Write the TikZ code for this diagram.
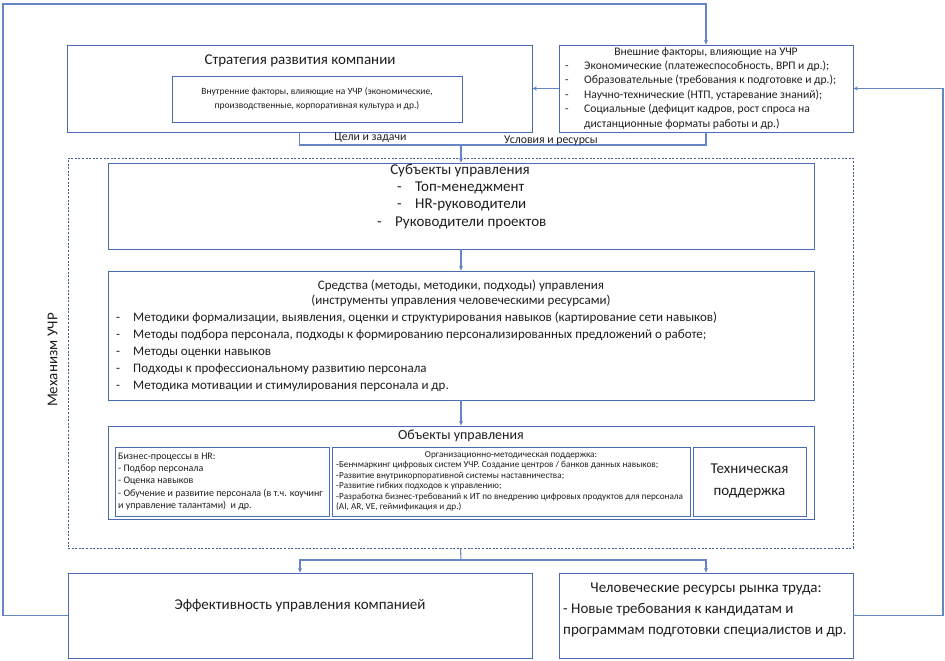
\documentclass[tikz,border=0pt]{standalone}
\usepackage{fontspec}
\setmainfont{Carlito}
\usetikzlibrary{arrows.meta}
\definecolor{bx}{HTML}{4A6BB0}
\definecolor{ln}{HTML}{6585C5}
\definecolor{tx}{HTML}{1E1E1E}
\begin{document}
\begin{tikzpicture}[x=1pt,y=-1pt,
  box/.style={draw=bx, line width=0.9pt, inner sep=0pt},
  conn/.style={draw=ln, line width=1.1pt},
  arr/.style={-{Stealth[length=4.5pt,width=4pt]}},
  t/.style={inner sep=0pt, text=tx, font=\fontsize{#1}{#1}\selectfont},
  tl/.style={t=#1, anchor=mid west},
  tc/.style={t=#1, anchor=mid}]
\useasboundingbox (0,0) rectangle (945,661);
% boxes
\node[box, minimum width=465pt, minimum height=87pt] (strat) at (299.5,88.5) {};
\node[box, minimum width=290pt, minimum height=46pt] (inner) at (317,99) {};
\node[box, minimum width=294pt, minimum height=87pt] (ext) at (706,88.5) {};
\node[draw=bx!85!black, dash pattern=on 2pt off 1.6pt, line width=0.7pt, inner sep=0pt, minimum width=785pt, minimum height=390pt] (mech) at (460.5,353) {};
\node[box, minimum width=706pt, minimum height=86pt] (subj) at (461,206) {};
\node[box, minimum width=706pt, minimum height=129pt] (means) at (461,335.5) {};
\node[box, minimum width=706pt, minimum height=93pt] (obj) at (461,472.5) {};
\node[box, minimum width=214pt, minimum height=69pt] (o1) at (222,481.5) {};
\node[box, minimum width=358pt, minimum height=69pt] (o2) at (511,481.5) {};
\node[box, minimum width=113pt, minimum height=69pt] (o3) at (749.5,481.5) {};
\node[box, minimum width=464pt, minimum height=85pt] (eff) at (300,615.5) {};
\node[box, minimum width=294pt, minimum height=85pt] (hr) at (706,615.5) {};
% connectors
\coordinate (ltop) at (3,4);
\coordinate (rtop) at (943,88.5);
\coordinate (g2) at (706,145);
\coordinate (gm) at (461,145);
\coordinate (b1) at (461,560);
\draw[conn,arr] (eff.west) -| (ltop) -| (ext.north);
\draw[conn,arr] (hr.east) -| (rtop) -- (ext.east);
\draw[conn,arr] (ext.west) -- (strat.east);
\draw[conn] (strat.south) |- (g2) -- (ext.south);
\draw[conn,arr] (gm) -- (subj.north);
\draw[conn,arr] (subj.south) -- (means.north);
\draw[conn,arr] (means.south) -- (obj.north);
\draw[conn] (mech.south) -- (b1);
\draw[conn,arr] (b1) -| (eff.north);
\draw[conn,arr] (b1) -| (hr.north);
% labels
\node[tc=11.8] (lg) at (370.5,138.5) {Цели и задачи};
\node[tc=11.8] (lu) at (551,141) {Условия и ресурсы};
\node[tc=15, rotate=90] (lm) at (55,360) {Механизм УЧР};
% strategy
\node[tc=15] (st) at (300,62) {Стратегия развития компании};
\node[t=9.5, align=center, font=\fontsize{9.5}{14}\selectfont, anchor=center] (it) at (317,99) {Внутренние факторы, влияющие на УЧР (экономические,\\ производственные, корпоративная культура и др.)};
% external
\node[tc=11.6] (e0) at (706,53) {Внешние факторы, влияющие на УЧР};
\node[tl=11.6] (e1d) at (565,67) {-};
\node[tl=11.6] (e1) at (584,67) {Экономические (платежеспособность, ВРП и др.);};
\node[tl=11.6] (e2d) at (565,81.5) {-};
\node[tl=11.6] (e2) at (584,81.5) {Образовательные (требования к подготовке и др.);};
\node[tl=11.6] (e3d) at (565,96) {-};
\node[tl=11.6] (e3) at (584,96) {Научно-технические (НТП, устаревание знаний);};
\node[tl=11.6] (e4d) at (565,110.5) {-};
\node[tl=11.6] (e4) at (584,110.5) {Социальные (дефицит кадров, рост спроса на};
\node[tl=11.6] (e5) at (584,125) {дистанционные форматы работы и др.)};
% subjects
\node[tc=15] (s0) at (460,172) {Субъекты управления};
\node[tl=15] (s1d) at (397,189) {-};
\node[tl=15] (s1) at (415,189) {Топ-менеджмент};
\node[tl=15] (s2d) at (397,206.5) {-};
\node[tl=15] (s2) at (415,206.5) {HR-руководители};
\node[tl=15] (s3d) at (377,224.5) {-};
\node[tl=15] (s3) at (395,224.5) {Руководители проектов};
% means
\node[tc=13] (m0) at (461,287) {Средства (методы, методики, подходы) управления};
\node[tc=13] (m1) at (461,302) {(инструменты управления человеческими ресурсами)};
\node[tl=13] (m2d) at (116,319) {-};
\node[tl=13] (m2) at (133,319) {Методики формализации, выявления, оценки и структурирования навыков (картирование сети навыков)};
\node[tl=13] (m3d) at (116,336.5) {-};
\node[tl=13] (m3) at (133,336.5) {Методы подбора персонала, подходы к формированию персонализированных предложений о работе;};
\node[tl=13] (m4d) at (116,353.5) {-};
\node[tl=13] (m4) at (133,353.5) {Методы оценки навыков};
\node[tl=13] (m5d) at (116,370.5) {-};
\node[tl=13] (m5) at (133,370.5) {Подходы к профессиональному развитию персонала};
\node[tl=13] (m6d) at (116,387.5) {-};
\node[tl=13] (m6) at (133,387.5) {Методика мотивации и стимулирования персонала и др.};
% objects
\node[tc=14] (ob) at (461,437) {Объекты управления};
\node[tl=10] (a1) at (118,457.5) {Бизнес-процессы в HR:};
\node[tl=10] (a2) at (118,469.5) {- Подбор персонала};
\node[tl=10] (a3) at (118,481.5) {- Оценка навыков};
\node[tl=10] (a4) at (118,494) {- Обучение и развитие персонала (в т.ч. коучинг};
\node[tl=10] (a5) at (118,506) {и управление талантами)\ \ и др.};
\node[tc=9.2] (b0) at (511,455) {Организационно-методическая поддержка:};
\node[tl=9.2] (bb1) at (336,465.5) {-Бенчмаркинг цифровых систем УЧР. Создание центров / банков данных навыков;};
\node[tl=9.2] (bb2) at (336,476) {-Развитие внутрикорпоративной системы наставничества;};
\node[tl=9.2] (bb3) at (336,486.5) {-Развитие гибких подходов к управлению;};
\node[tl=9.2] (bb4) at (336,497) {-Разработка бизнес-требований к ИТ по внедрению цифровых продуктов для персонала};
\node[tl=9.2] (bb5) at (336,507.5) {(AI, AR, VE, геймификация и др.)};
\node[t=15, align=center, font=\fontsize{15}{22}\selectfont, anchor=center] (tp) at (749.5,481) {Техническая\\ поддержка};
% bottom
\node[tc=15] (ef) at (300,607) {Эффективность управления компанией};
\node[tc=15] (h0) at (706,590) {Человеческие ресурсы рынка труда:};
\node[tl=15] (h1) at (563,611) {- Новые требования к кандидатам и};
\node[tl=15] (h2) at (563,632) {программам подготовки специалистов и др.};
\end{tikzpicture}
\end{document}
